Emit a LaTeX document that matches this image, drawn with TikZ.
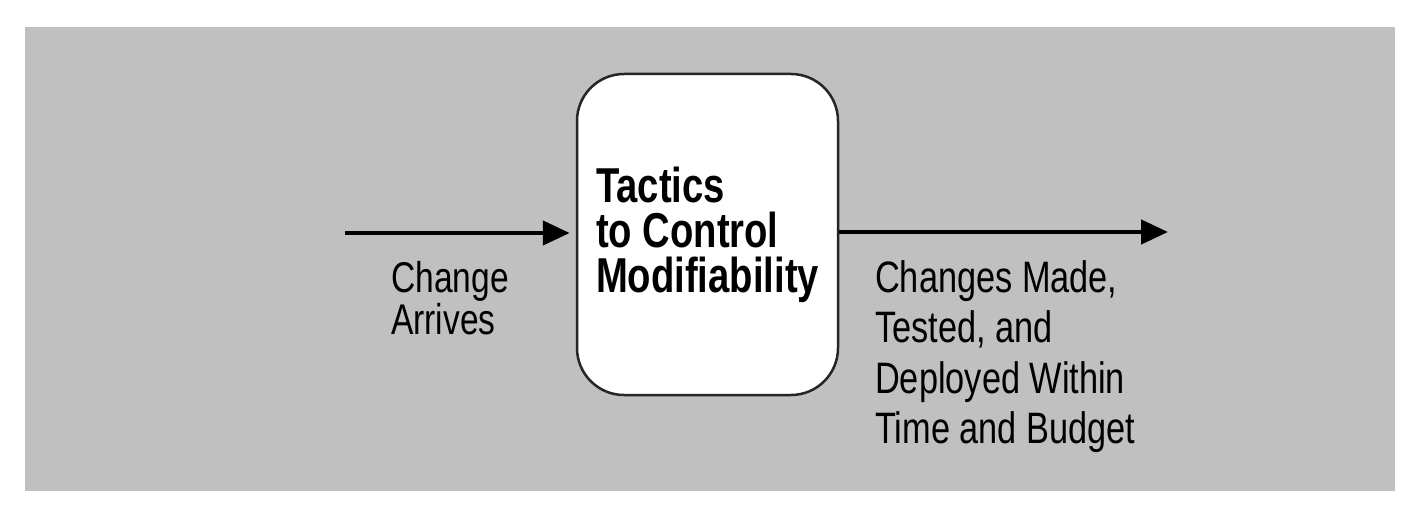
\documentclass[tikz,border=0pt]{standalone}
\usepackage{fontspec}
\setmainfont{Liberation Sans}[FakeStretch=0.78]
\usetikzlibrary{arrows.meta}
\definecolor{panel}{HTML}{C0C0C0}

\begin{document}
\begin{tikzpicture}[x=1pt,y=-1pt,
    flow/.style={line width=4.5pt,-{Triangle[length=27pt,width=24pt]}},
    note/.style 2 args={anchor=north west,align=left,inner sep=0pt,font=\fontsize{#1}{#2}\selectfont},
    tactic/.style={draw=black!85,line width=2.5pt,fill=white,rounded corners=47pt,
        align=left,minimum width=261pt,minimum height=321pt,inner sep=0pt,
        font=\fontsize{49}{45}\selectfont\bfseries}]
    \useasboundingbox (0,0) rectangle (1414,508);
    % grey panel behind everything
    \fill[panel] (25,27) rectangle (1395,491);
    % the box in the middle
    \node[tactic] (box) at (707.5,234.5) {Tactics\\to Control\\Modifiability};
    \coordinate (in) at (345,233);
    \coordinate (out) at (1168,232);
    \draw[flow] (in) -- ([xshift=-6pt]in -| box.west);
    \draw[flow] (out -| box.east) -- (out);
    % labels under the arrows
    \node[note={43}{42}] (arrives) at (391,261) {Change\\Arrives};
    \node[note={44}{50.5}] (made) at (875,260)
        {Changes Made,\\Tested, and\\Deployed Within\\Time and Budget};
\end{tikzpicture}
\end{document}
